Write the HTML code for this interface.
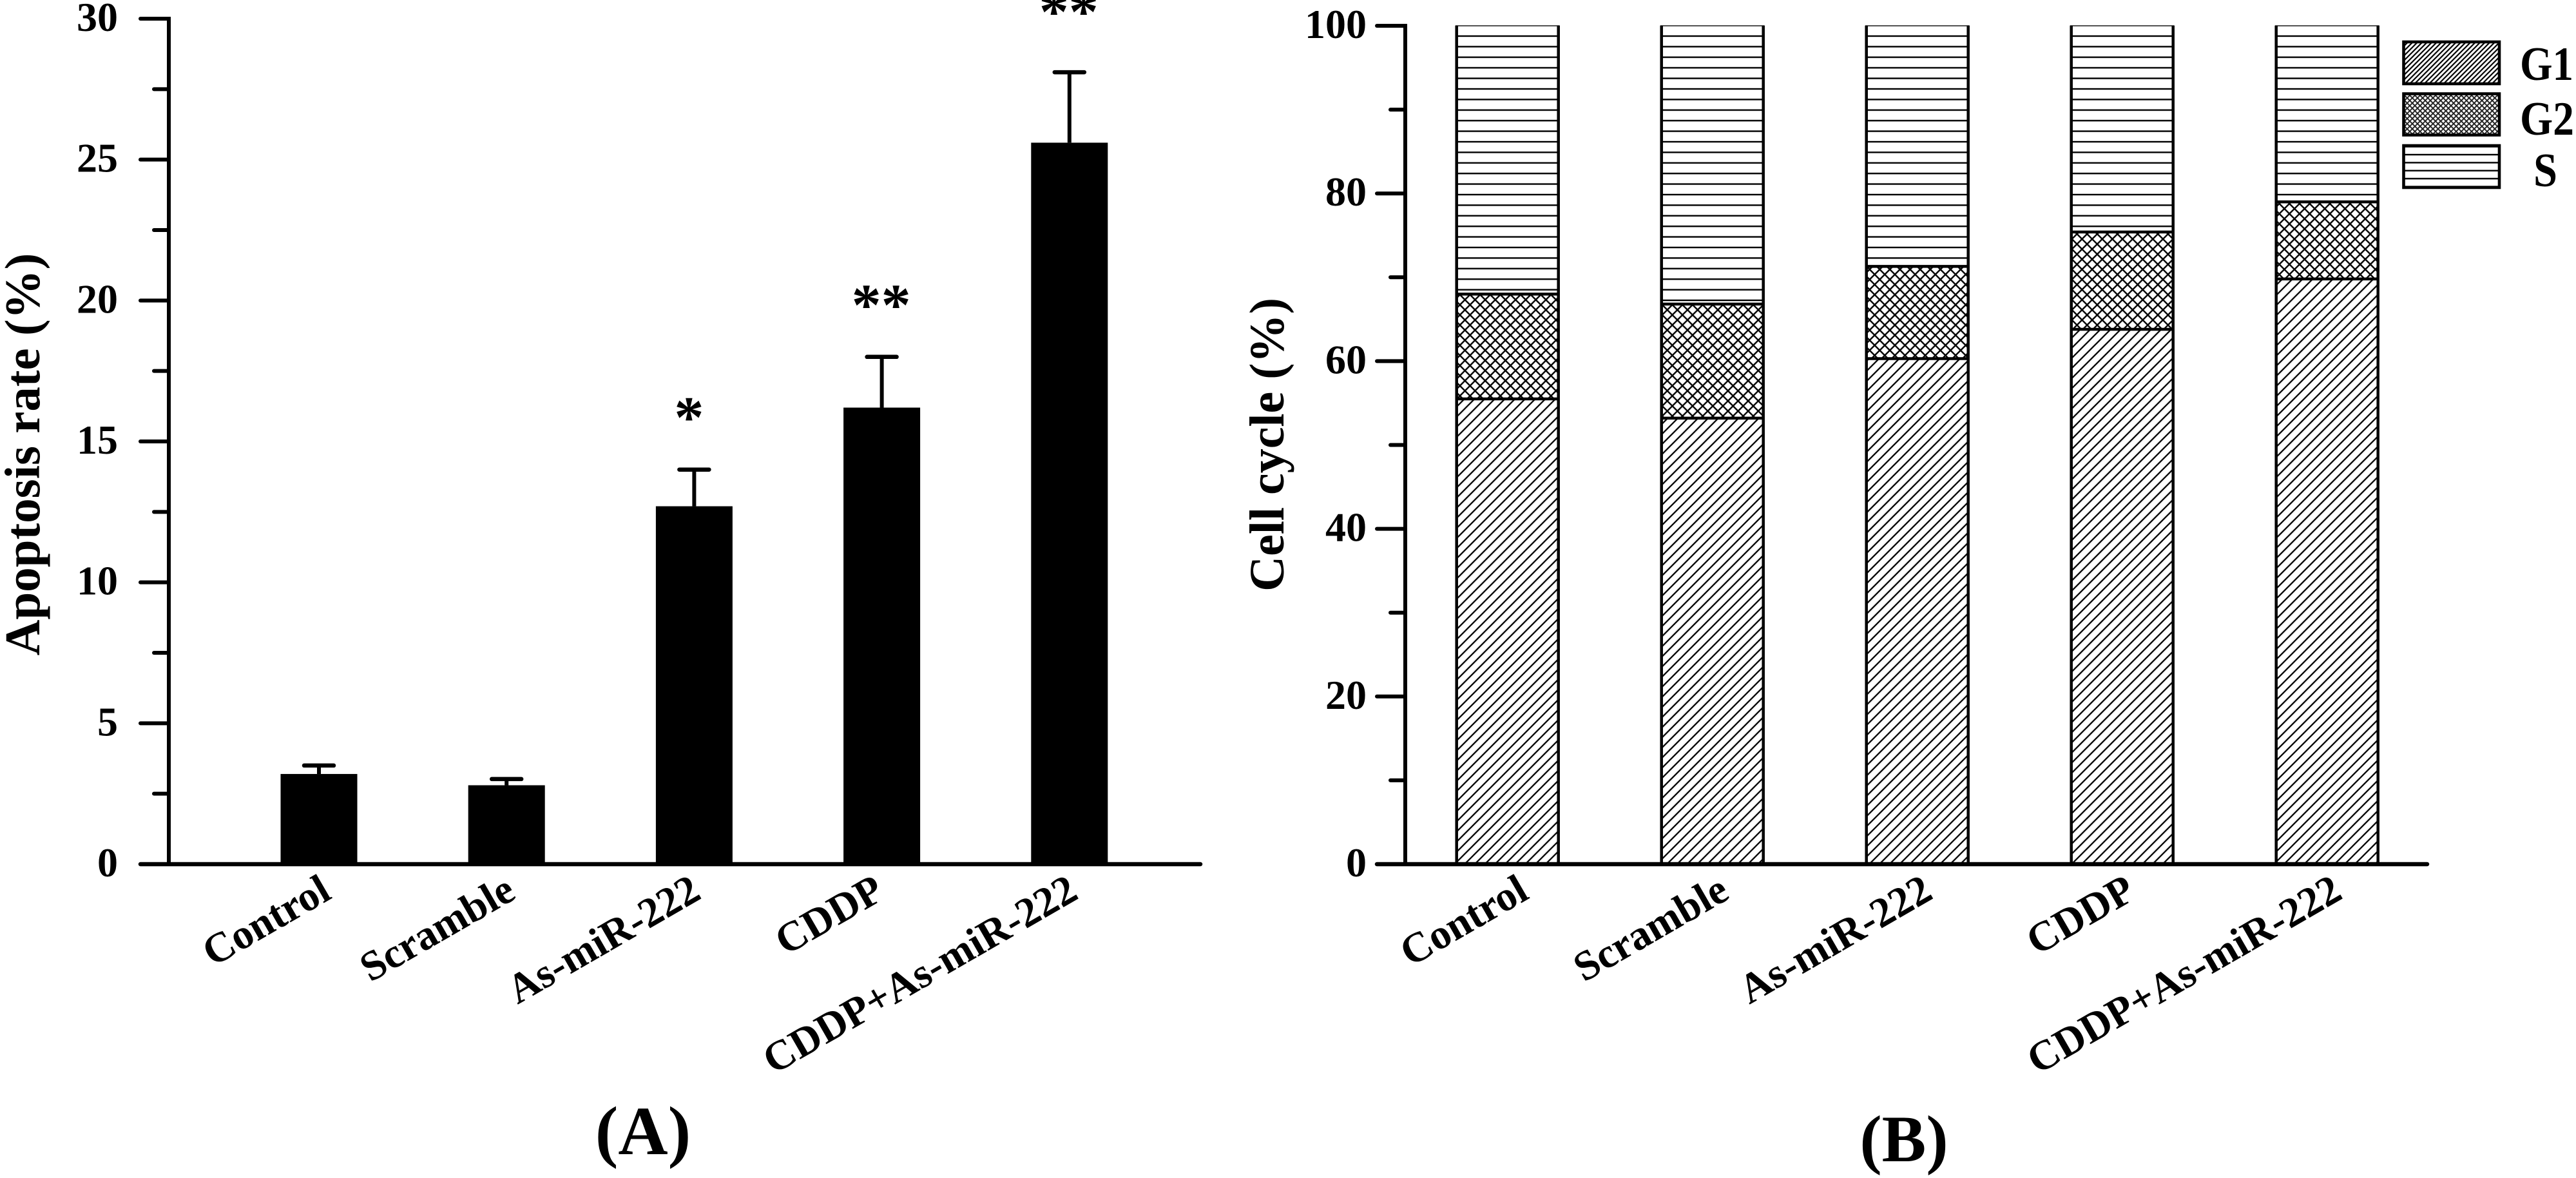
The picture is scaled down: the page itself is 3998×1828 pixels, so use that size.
<!DOCTYPE html>
<html lang="en">
<head>
<meta charset="utf-8">
<title>Apoptosis rate and cell cycle charts</title>
<style>
html,body{margin:0;padding:0;background:#fff;width:3998px;height:1828px;overflow:hidden}
svg{display:block}
text{font-family:"Liberation Serif",serif;font-weight:bold;fill:#000}
</style>
</head>
<body>
<svg id="fig" xmlns="http://www.w3.org/2000/svg" width="3998" height="1828" viewBox="0 0 3998 1828">
  <defs>
    <pattern id="hatch-diag" patternUnits="userSpaceOnUse" width="15.7" height="15.7" patternTransform="translate(3.1,0)">
      <path d="M-2,17.7L17.7,-2M-2,2L2,-2M13.7,17.7L17.7,13.7" stroke="#000" stroke-width="2.3" fill="none"/>
    </pattern>
    <pattern id="hatch-cross" patternUnits="userSpaceOnUse" width="15.7" height="15.7" patternTransform="translate(5,2)">
      <path d="M-2,17.7L17.7,-2M-2,2L2,-2M13.7,17.7L17.7,13.7M-2,-2L17.7,17.7M-2,13.7L2,17.7M13.7,-2L17.7,2" stroke="#000" stroke-width="2.4" fill="none"/>
    </pattern>
    <pattern id="hatch-horiz" patternUnits="userSpaceOnUse" width="16.4" height="16.4" patternTransform="translate(0,6.8)">
      <rect x="0" y="-1.2" width="16.4" height="2.4" fill="#000"/>
      <rect x="0" y="15.2" width="16.4" height="2.4" fill="#000"/>
    </pattern>
    <pattern id="legend-diag" patternUnits="userSpaceOnUse" width="7.5" height="7.5">
      <path d="M-1,8.5L8.5,-1M-1,1L1,-1M6.5,8.5L8.5,6.5" stroke="#000" stroke-width="2.2" fill="none"/>
    </pattern>
    <pattern id="legend-cross" patternUnits="userSpaceOnUse" width="8" height="8">
      <path d="M-1,9L9,-1M-1,1L1,-1M7,9L9,7M-1,-1L9,9M-1,7L1,9M7,-1L9,1" stroke="#222" stroke-width="1.9" fill="none"/>
    </pattern>
    <pattern id="legend-horiz" patternUnits="userSpaceOnUse" width="13" height="12.4" patternTransform="translate(0,240)">
      <rect x="0" y="-1.2" width="13" height="2.4" fill="#000"/>
      <rect x="0" y="11.2" width="13" height="2.4" fill="#000"/>
    </pattern>
  </defs>
  <g id="chart-a"></g>
  <g id="chart-b"></g>

  <g>
    <g>
      <rect x="3730.5" y="65" width="148.5" height="65" fill="url(#legend-diag)" stroke="#000" stroke-width="4.6"/>
      <text x="3911" y="124" font-size="74" textLength="83" lengthAdjust="spacingAndGlyphs">G1</text>
    </g>
    <g>
      <rect x="3730.5" y="145.5" width="148.5" height="64" fill="url(#legend-cross)" stroke="#000" stroke-width="4.6"/>
      <text x="3911" y="209" font-size="74" textLength="84" lengthAdjust="spacingAndGlyphs">G2</text>
    </g>
    <g>
      <rect x="3730.5" y="226" width="148.5" height="65" fill="url(#legend-horiz)" stroke="#000" stroke-width="4.6"/>
      <text x="3932" y="289" font-size="74" textLength="37" lengthAdjust="spacingAndGlyphs">S</text>
    </g>
  </g>

  <text x="998" y="1791" font-size="107" text-anchor="middle">(A)</text>
  <text x="2955" y="1802" font-size="103" text-anchor="middle">(B)</text>
</svg>
<script>
// Shared categories
const categories = ["Control", "Scramble", "As-miR-222", "CDDP", "CDDP+As-miR-222"];

// Panel A data
const apoptosisMeans = [3.2, 2.8, 12.7, 16.2, 25.6];
const apoptosisErrors = [0.3, 0.22, 1.3, 1.8, 2.5];
const significance = ["", "", "*", "**", "**"];
const apoptosisTicks = [0, 5, 10, 15, 20, 25, 30];
const apoptosisMinorTicks = [2.5, 7.5, 12.5, 17.5, 22.5, 27.5];

// Panel B data (percent of cells per phase)
const g1Values = [55.5, 53.2, 60.3, 63.8, 69.8];
const g2Values = [12.5, 13.6, 11.0, 11.6, 9.2];
const sValues = [32.0, 33.2, 28.7, 24.6, 21.0];
const cycleTicks = [0, 20, 40, 60, 80, 100];
const cycleMinorTicks = [10, 30, 50, 70, 90];

const SVG_NS = "http://www.w3.org/2000/svg";
function make(tag, attrs, parent) {
  const el = document.createElementNS(SVG_NS, tag);
  for (const k in attrs) el.setAttribute(k, attrs[k]);
  parent.appendChild(el);
  return el;
}
function slug(s) { return s.toLowerCase().replace(/[^a-z0-9]+/g, "-"); }

/* axis functions */
const yA = v => 1341 - v * (1341 - 29) / 30;
const xA = i => 495 + i * 291.2;
const yB = v => 1341 - v * (1341 - 40) / 100;
const xB = i => 2339.7 + i * 318;

/* hand-fitted label placement, per category name */
const labelShiftA = {"Control": 22, "Scramble": 17, "As-miR-222": 13.5, "CDDP": 7, "CDDP+As-miR-222": 16.5};
const labelShiftB = {"Control": 36, "Scramble": 29, "As-miR-222": 27, "CDDP": 24, "CDDP+As-miR-222": 26.6};

/* ---------- Panel A ---------- */
const gA = document.getElementById("chart-a");

for (let i = 0; i < categories.length; i++) {
  const cx = xA(i), top = yA(apoptosisMeans[i]), errTop = yA(apoptosisMeans[i] + apoptosisErrors[i]);
  const bar = make("rect", {x: cx - 59.5, y: top, width: 119, height: yA(0) - top, fill: "#000"}, gA);
  
  
  const stem = make("line", {x1: cx, x2: cx, y1: top, y2: errTop, stroke: "#000", "stroke-width": 6}, gA);
  
  
  const cap = make("line", {x1: cx - 23, x2: cx + 23, y1: errTop, y2: errTop, stroke: "#000", "stroke-width": 6.5, "stroke-linecap": "round"}, gA);
  
  
  if (significance[i]) {
    const starX = significance[i].length === 1 ? cx - 8 : cx - 1;
    const star = make("text", {x: starX, y: errTop - (i === 4 ? 63 : 50), "font-size": 92, "text-anchor": "middle"}, gA);
    star.textContent = significance[i];
    
    
  }
  const xe = cx + labelShiftA[categories[i]];
  const lab = make("text", {x: xe, y: 1393, "font-size": 65, "text-anchor": "end", transform: "rotate(-30 " + xe + " 1393)"}, gA);
  lab.textContent = categories[i];
  
  
}

const yAxisA = make("line", {x1: 262, x2: 262, y1: yA(30) - 3, y2: yA(0), stroke: "#000", "stroke-width": 6}, gA);


const xAxisA = make("line", {x1: 218, x2: 1863, y1: yA(0), y2: yA(0), stroke: "#000", "stroke-width": 6.5, "stroke-linecap": "round"}, gA);



for (const t of apoptosisTicks) {
  const tick = make("line", {x1: 218, x2: 262, y1: yA(t), y2: yA(t), stroke: "#000", "stroke-width": 6, "stroke-linecap": "round"}, gA);
  
  
  const lab = make("text", {x: 183, y: yA(t) + 19, "font-size": 64, "text-anchor": "end"}, gA);
  lab.textContent = t;
  
  
}
for (const t of apoptosisMinorTicks) {
  const tick = make("line", {x1: 239, x2: 262, y1: yA(t), y2: yA(t), stroke: "#000", "stroke-width": 6, "stroke-linecap": "round"}, gA);
  
  
}
const titleA = make("text", {x: 61, y: 705, "font-size": 77, "text-anchor": "middle", transform: "rotate(-90 61 705)"}, gA);
titleA.textContent = "Apoptosis rate (%)";



/* ---------- Panel B ---------- */
const gB = document.getElementById("chart-b");
const seriesFill = ["url(#hatch-diag)", "url(#hatch-cross)", "url(#hatch-horiz)"];
const seriesNames = ["g1", "g2", "s"];
const seriesValues = [g1Values, g2Values, sValues];

for (let i = 0; i < categories.length; i++) {
  const cx = xB(i), L = cx - 79, W = 158;
  let cum = 0;
  for (let s = 0; s < seriesValues.length; s++) {
    const y0 = yB(cum), y1 = yB(cum + seriesValues[s][i]);
    const seg = make("rect", {x: L, y: y1, width: W, height: y0 - y1, fill: seriesFill[s]}, gB);
    
    
    cum += seriesValues[s][i];
    if (s < seriesValues.length - 1) {
      const sep = make("line", {x1: L, x2: L + W, y1: y1, y2: y1, stroke: "#000", "stroke-width": 4.5}, gB);
      
      
    }
  }
  const topY = yB(cum);
  const topLine = make("line", {x1: L - 2, x2: L + W + 2, y1: topY, y2: topY, stroke: "#555", "stroke-width": 2}, gB);
  
  
  const leftEdge = make("line", {x1: L, x2: L, y1: topY, y2: yB(0), stroke: "#000", "stroke-width": 4.5}, gB);
  
  
  const rightEdge = make("line", {x1: L + W, x2: L + W, y1: topY, y2: yB(0), stroke: "#000", "stroke-width": 4.5}, gB);
  
  

  const xe = cx + labelShiftB[categories[i]];
  const lab = make("text", {x: xe, y: 1393, "font-size": 65, "text-anchor": "end", transform: "rotate(-30 " + xe + " 1393)"}, gB);
  lab.textContent = categories[i];
  
  
}

const yAxisB = make("line", {x1: 2181, x2: 2181, y1: yB(100) - 3, y2: yB(0), stroke: "#000", "stroke-width": 6}, gB);


const xAxisB = make("line", {x1: 2137, x2: 3767, y1: yB(0), y2: yB(0), stroke: "#000", "stroke-width": 6.5, "stroke-linecap": "round"}, gB);



for (const t of cycleTicks) {
  const tick = make("line", {x1: 2137, x2: 2181, y1: yB(t), y2: yB(t), stroke: "#000", "stroke-width": 6, "stroke-linecap": "round"}, gB);
  
  
  const lab = make("text", {x: 2121, y: yB(t) + 19, "font-size": 64, "text-anchor": "end"}, gB);
  lab.textContent = t;
  
  
}
for (const t of cycleMinorTicks) {
  const tick = make("line", {x1: 2158, x2: 2181, y1: yB(t), y2: yB(t), stroke: "#000", "stroke-width": 6, "stroke-linecap": "round"}, gB);
  
  
}
const titleB = make("text", {x: 1992, y: 690, "font-size": 76, "text-anchor": "middle", transform: "rotate(-90 1992 690)"}, gB);
titleB.textContent = "Cell cycle (%)";


</script>
</body>
</html>
